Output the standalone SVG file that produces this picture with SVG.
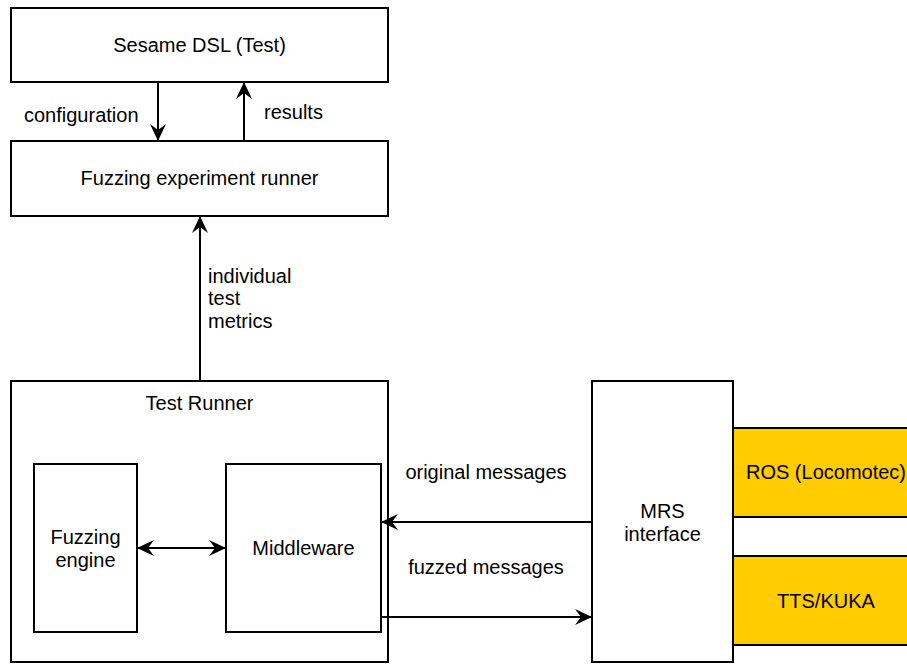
<svg xmlns="http://www.w3.org/2000/svg" width="907" height="664" viewBox="0 0 907 664">
  <style>
    .box { fill: #ffffff; stroke: #000000; stroke-width: 2; }
    .hw { fill: #ffcc00; stroke: #000000; stroke-width: 2; }
    .lbl { font-family: "Liberation Sans", Arial, sans-serif; font-size: 20px; fill: #000000; }
    .c { text-anchor: middle; }
    .edge { fill: none; stroke: #000000; stroke-width: 2; }
  </style>
  <defs>
    <!-- classic notched arrowhead -->
    <marker id="arrow" viewBox="0 0 17 16" refX="16" refY="8" markerWidth="17" markerHeight="16" markerUnits="userSpaceOnUse" orient="auto-start-reverse">
      <path d="M0,0 L17,8 L0,16 L6,8 z" fill="#000000"/>
    </marker>
  </defs>

  <rect width="907" height="664" fill="#ffffff"/>

  <g id="sesame-dsl">
    <rect class="box" x="11" y="8" width="377" height="74"/>
    <text class="lbl c" x="199.5" y="52">Sesame DSL (Test)</text>
  </g>

  <g id="experiment-runner">
    <rect class="box" x="11" y="141" width="377" height="75"/>
    <text class="lbl c" x="199.5" y="185">Fuzzing experiment runner</text>
  </g>

  <g id="test-runner">
    <rect class="box" x="11" y="381" width="377" height="281"/>
    <text class="lbl c" x="199.5" y="410">Test Runner</text>
  </g>

  <g id="fuzzing-engine">
    <rect class="box" x="34" y="464" width="103" height="168"/>
    <text class="lbl c" x="85.5" y="544">Fuzzing</text>
    <text class="lbl c" x="85.5" y="567">engine</text>
  </g>

  <g id="middleware">
    <rect class="box" x="226" y="464" width="155" height="168"/>
    <text class="lbl c" x="303.5" y="555">Middleware</text>
  </g>

  <g id="mrs-interface">
    <rect class="box" x="592" y="381" width="141" height="281"/>
    <text class="lbl c" x="662.5" y="518">MRS</text>
    <text class="lbl c" x="662.5" y="541">interface</text>
  </g>

  <g id="ros-locomotec">
    <rect class="hw" x="733" y="428" width="180" height="89"/>
    <text class="lbl c" x="826" y="479">ROS (Locomotec)</text>
  </g>

  <g id="tts-kuka">
    <rect class="hw" x="733" y="556" width="180" height="89"/>
    <text class="lbl c" x="826" y="608">TTS/KUKA</text>
  </g>

  <g id="connectors">
    <line class="edge" x1="158" y1="82" x2="158" y2="140" marker-end="url(#arrow)"/>
    <line class="edge" x1="244" y1="141" x2="244" y2="83" marker-end="url(#arrow)"/>
    <line class="edge" x1="200" y1="381" x2="200" y2="217" marker-end="url(#arrow)"/>
    <line class="edge" x1="138" y1="548" x2="225" y2="548" marker-start="url(#arrow)" marker-end="url(#arrow)"/>
    <line class="edge" x1="592" y1="522" x2="382" y2="522" marker-end="url(#arrow)"/>
    <line class="edge" x1="381" y1="617" x2="591" y2="617" marker-end="url(#arrow)"/>

    <text class="lbl" x="24" y="122">configuration</text>
    <text class="lbl" x="264" y="119">results</text>
    <text class="lbl" x="208" y="283">individual</text>
    <text class="lbl" x="208" y="305">test</text>
    <text class="lbl" x="208" y="328">metrics</text>
    <text class="lbl c" x="486" y="479">original messages</text>
    <text class="lbl c" x="486" y="574">fuzzed messages</text>
  </g>
</svg>
